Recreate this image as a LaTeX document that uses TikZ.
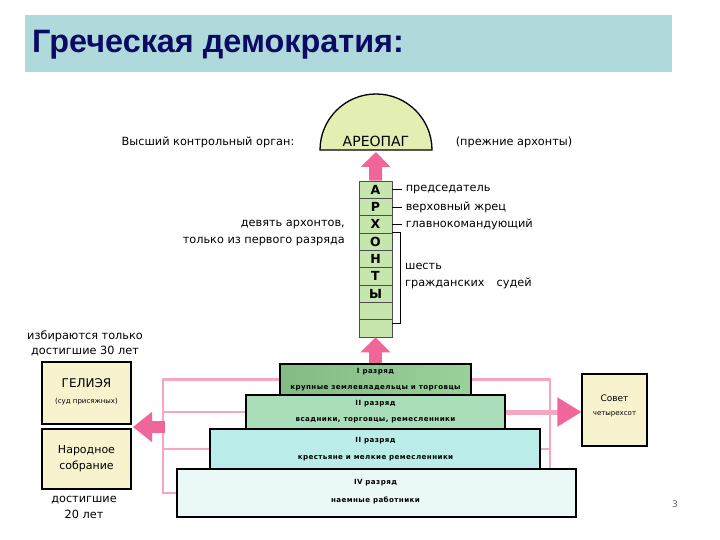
\documentclass[tikz,border=0pt]{standalone}
\usepackage{fontspec}
\setmainfont{DejaVu Sans}
\newfontfamily\titlefont{Liberation Sans}
\newfontfamily\smallfont[LetterSpace=6]{DejaVu Sans}
\usetikzlibrary{arrows.meta,calc}
\definecolor{barfill}{HTML}{B0D9DC}
\definecolor{titlecol}{HTML}{0B0B63}
\definecolor{pinkA}{HTML}{F0669A}
\definecolor{pinkL}{HTML}{F5A6C0}
\definecolor{tierI}{HTML}{8FCB8F}
\definecolor{tierII}{HTML}{AADDBA}
\definecolor{tierIII}{HTML}{BAECEA}
\definecolor{tierIV}{HTML}{EAF8F8}
\definecolor{cellfill}{HTML}{C6E6AE}
\definecolor{boxfill}{HTML}{F8F3CF}
\definecolor{areofill}{HTML}{E3EFB2}
\tikzset{
  tier/.style={draw=black, line width=1.2pt, inner sep=0pt},
  cell/.style={draw=black!70, line width=0.8pt, fill=cellfill, minimum width=33, minimum height=17.33, inner sep=0pt, font=\fontsize{12.5}{13}\selectfont\bfseries},
  lab/.style={font=\fontsize{11.3}{13}\selectfont, inner sep=0pt},
  tinylab/.style={font=\smallfont\fontsize{7.1}{8}\selectfont\bfseries, inner sep=0pt},
  sidebox/.style={draw=black, line width=1.2pt, fill=boxfill, inner sep=0pt},
  bigarrow/.style={pinkA, line width=13pt, -{Triangle[width=29pt,length=15pt]}},
  pinkline/.style={pinkL, line width=2.6pt},
}
\begin{document}
\begin{tikzpicture}[x=1pt,y=-1pt]
\useasboundingbox (0,0) rectangle (720,540);
\fill[white] (0,0) rectangle (720,540);
% title bar
\node[fill=barfill, minimum width=647, minimum height=57, anchor=north west, inner sep=0pt] (bar) at (25,15) {};
\node[anchor=west, inner sep=0pt, text=titlecol, font=\titlefont\bfseries\fontsize{32.4}{35}\selectfont] (title) at (32,45) {Греческая демократия:};

% Areopag
\draw[fill=areofill, line width=1.3pt] (320,150) arc[start angle=180, end angle=360, radius=56] -- cycle;
\node[inner sep=0pt, font=\fontsize{14}{16}\selectfont] (areo) at (376,141) {АРЕОПАГ};
\coordinate (areobase) at (376,152);
\node[lab] (highest) at (208,142) {Высший контрольный орган:};
\node[lab] (former) at (514,142) {(прежние архонты)};

% archon column
\foreach \i/\t in {1/А,2/Р,3/Х,4/О,5/Н,6/Т,7/Ы,8/,9/}
  \node[cell] (c\i) at (375.5,{181+17.33*(\i-0.5)}) {\t};

\draw[bigarrow] (c1.north) -- (areobase);

\draw[line width=0.8pt] (c1.east) -- ++(10,0) node[lab, anchor=west, xshift=3pt] (pres) {председатель};
\draw[line width=0.8pt] (c2.east) -- ++(10,0) node[lab, anchor=west, xshift=3pt] (priest) {верховный жрец};
\draw[line width=0.8pt] (c3.east) -- ++(10,0) node[lab, anchor=west, xshift=3pt] (comm) {главнокомандующий};
\draw[line width=0.8pt] (c4.north east) -- ++(8,0) coordinate (brt) -- ($(c9.east)+(8,-5)$) coordinate (brb) -- ($(c9.east)+(0,-5)$);
\node[lab, anchor=west] (six) at (405,266) {шесть};
\node[lab, anchor=west] (civ) at (405,283) {гражданских\hspace{12pt}судей};
\node[lab, anchor=east] (nine) at (345,225) {девять архонтов,};
\node[lab, anchor=east] (only) at (345,242) {только из первого разряда};

% pyramid
\node[tier, fill=tierIV, minimum width=399, minimum height=48] (t4) at (376.5,493) {};
\node[tier, fill=tierIII, minimum width=330, minimum height=40] (t3) at (375,449) {};
\node[tier, fill=tierII, minimum width=259, minimum height=34] (t2) at (375.5,412) {};
\node[tier, left color=tierI!92!black, right color=tierI!90!white, minimum width=191, minimum height=31] (t1) at (375.5,379.5) {};

\node[tinylab] (t1a) at (375.5,372) {I разряд};
\node[tinylab] (t1b) at (375.5,388) {крупные землевладельцы и торговцы};
\node[tinylab] (t2a) at (375.5,404) {II разряд};
\node[tinylab] (t2b) at (375.5,420) {всадники, торговцы, ремесленники};
\node[tinylab] (t3a) at (375.5,441) {II разряд};
\node[tinylab] (t3b) at (375.5,458) {крестьяне и мелкие ремесленники};
\node[tinylab] (t4a) at (375.5,483) {IV разряд};
\node[tinylab] (t4b) at (375.5,500) {наемные работники};

\draw[bigarrow] (t1.north) -- (c9.south);

% left side
\node[sidebox, minimum width=89, minimum height=62] (gel) at (86.5,393) {};
\node[inner sep=0pt, font=\fontsize{12}{13}\selectfont] (gela) at (86.5,383) {ГЕЛИЭЯ};
\node[inner sep=0pt, font=\fontsize{7}{8}\selectfont] (gelb) at (86.5,402) {(суд присяжных)};
\node[sidebox, minimum width=89, minimum height=60] (nar) at (86.5,459) {};
\node[inner sep=0pt, font=\fontsize{11}{12}\selectfont] (nara) at (86.5,451) {Народное};
\node[inner sep=0pt, font=\fontsize{11}{12}\selectfont] (narb) at (86.5,466) {собрание};
\node[lab] (el1) at (85,336) {избираются только};
\node[lab] (el2) at (85,351) {достигшие 30 лет};
\node[lab] (ag1) at (84,500) {достигшие};
\node[lab] (ag2) at (84,514) {20 лет};

\coordinate (lv) at (163,0);
\draw[pinkline] (t1.west) -- (t1.west -| lv) -- (t4.west -| lv) -- (t4.west);
\draw[pinkline] (t2.west) -- (t2.west -| lv);
\draw[pinkline] (t3.west) -- (t3.west -| lv);
\coordinate (larr) at (165,427);
\coordinate (ltip) at (133,427);
\draw[pinkA, line width=12pt, -{Triangle[width=29pt,length=19pt]}] (larr) -- (ltip);

% right side
\node[sidebox, minimum width=65, minimum height=72] (sov) at (614.5,410) {};
\node[inner sep=0pt, font=\fontsize{9}{10}\selectfont] (sova) at (614.5,398) {Совет};
\node[inner sep=0pt, font=\fontsize{7}{8}\selectfont] (sovb) at (614.5,414) {четырехсот};
\coordinate (rv) at (550,0);
\draw[pinkline] (t1.east) -- (t1.east -| rv) -- (t4.north -| rv);
\draw[pinkline] (t3.east) -- (t3.east -| rv);
\draw[pinkL, line width=5pt, -{Triangle[width=28pt,length=24pt,fill=pinkA,color=pinkA]}] (t2.east) -- (t2.east -| sov.west);

\node[inner sep=0pt, text=black!60, font=\fontsize{9}{10}\selectfont] (pg) at (675,504) {3};
\end{tikzpicture}
\end{document}
